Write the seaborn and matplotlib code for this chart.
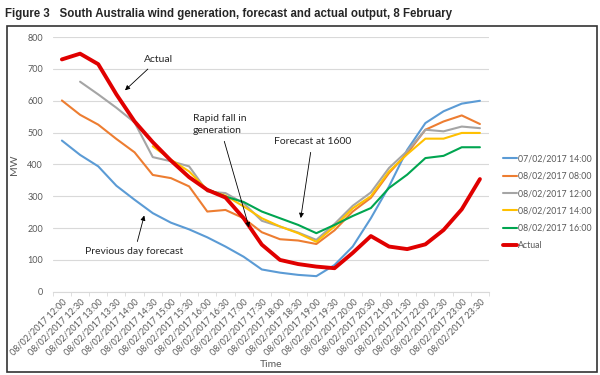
import pandas as pd
import matplotlib.pyplot as plt
import seaborn as sns
from matplotlib.patches import Rectangle

# Time categories (half-hourly, 8 Feb 2017)
times = ["08/02/2017 %02d:%s" % (h, m) for h in range(12, 24) for m in ("00", "30")]

# Series values (MW); None = no forecast for that interval
prev_day = [475, 430, 394, 333, 289, 247, 217, 196, 171, 142, 110, 70,
            60, 53, 49, 84, 142, 231, 331, 446, 530, 567, 591, 600]
fc_0800 = [601, 556, 525, 480, 438, 367, 357, 331, 252, 257, 231, 187,
           165, 161, 150, 193, 252, 295, 373, 435, 509, 535, 554, 527]
fc_1200 = [None, 660, 620, 578, 532, 423, 410, 394, 315, 310, 278, 223,
           205, 186, 163, 213, 270, 312, 389, 442, 509, 504, 519, 514]
fc_1400 = [None, None, None, None, None, 457, 415, 378, 320, 302, 268, 231,
           205, 184, 157, 205, 262, 300, 378, 432, 481, 481, 499, 499]
fc_1600 = [None, None, None, None, None, None, None, None, 322, 299, 282, 252,
           231, 210, 184, 210, 238, 263, 326, 368, 420, 427, 454, 454]
actual = [730, 748, 715, 620, 535, 470, 412, 360, 320, 296, 231, 148,
          100, 87, 79, 74, 122, 175, 142, 134, 149, 194, 259, 354]

series_names = ["07/02/2017 14:00", "08/02/2017 08:00", "08/02/2017 12:00",
                "08/02/2017 14:00", "08/02/2017 16:00", "Actual"]
series_values = [prev_day, fc_0800, fc_1200, fc_1400, fc_1600, actual]
colors = ["#5B9BD5", "#ED7D31", "#A5A5A5", "#FFC000", "#00A550", "#E00000"]
widths = [1.5, 1.5, 1.5, 1.5, 1.5, 2.8]

sns.set_style("white")
plt.rcParams['font.family'] = ['Lato', 'DejaVu Sans']
grey_txt = "#595959"

fig = plt.figure(figsize=(6, 3.75), dpi=100)
ax = fig.add_axes([0.088, 0.222, 0.727, 0.679])

for name, vals, c, lw in zip(series_names, series_values, colors, widths):
    df = pd.DataFrame({"idx": range(len(times)), "MW": vals}).dropna()
    sns.lineplot(data=df, x="idx", y="MW", ax=ax, color=c, linewidth=lw,
                 label=name)

ax.set_xlim(-0.5, len(times) - 0.5)
ax.set_ylim(0, 800)
ax.set_yticks(range(0, 801, 100))
ax.yaxis.grid(True, color="#D9D9D9", linewidth=0.8)
ax.xaxis.grid(False)
ax.set_xticks(range(len(times)))
ax.set_xticklabels(times, rotation=45, ha="right", rotation_mode="anchor")
ax.set_xticks([i - 0.5 for i in range(len(times) + 1)], minor=True)
ax.tick_params(axis="x", which="major", length=0, labelsize=6.5,
               colors=grey_txt, pad=4)
ax.tick_params(axis="x", which="minor", length=3, color="#D9D9D9",
               direction="out", bottom=True)
ax.tick_params(axis="y", length=0, labelsize=6.5, colors=grey_txt, pad=7)
for s in ("top", "right", "left"):
    ax.spines[s].set_visible(False)
ax.spines["bottom"].set_color("#D9D9D9")
ax.set_xlabel("Time", fontsize=7.5, color=grey_txt, labelpad=2)
ax.set_ylabel("MW", fontsize=7.5, color=grey_txt, labelpad=6)

leg = ax.legend(loc="upper left", bbox_to_anchor=(0.838, 0.588),
                bbox_transform=fig.transFigure, frameon=False, fontsize=6.3,
                handlelength=1.6, handletextpad=0.15, labelspacing=0.95,
                borderpad=0, borderaxespad=0)
for t in leg.get_texts():
    t.set_color(grey_txt)

# Annotations
arrow = dict(arrowstyle="-|>", color="black", lw=0.6, mutation_scale=7)
ax.annotate("Actual", xy=(3.36, 627), xytext=(5.3, 730), fontsize=7.5,
            ha="center", va="center", arrowprops=arrow)
ax.annotate("Rapid fall in\ngeneration", xy=(10.34, 194), xytext=(7.2, 525),
            fontsize=7.5, ha="left", va="center", linespacing=1.5,
            arrowprops=arrow)
ax.annotate("Forecast at 1600", xy=(13.12, 223), xytext=(11.65, 471),
            fontsize=7.5, ha="left", va="center", arrowprops=arrow)
ax.annotate("Previous day forecast", xy=(4.57, 248), xytext=(4.0, 125),
            fontsize=7.5, ha="center", va="center", arrowprops=arrow)

# Outer frame and figure title
fig.patches.append(Rectangle((7 / 600, 3 / 375), 590 / 600, 346 / 375,
                             transform=fig.transFigure, fill=False,
                             edgecolor="#333333", linewidth=1.2))
fig.text(0.008, 0.963, "Figure 3   South Australia wind generation, forecast and actual output, 8 February",
         fontsize=8.3, fontweight="bold", family=["Liberation Sans", "DejaVu Sans"],
         va="center", ha="left")

fig.savefig("out.png", dpi=100)
